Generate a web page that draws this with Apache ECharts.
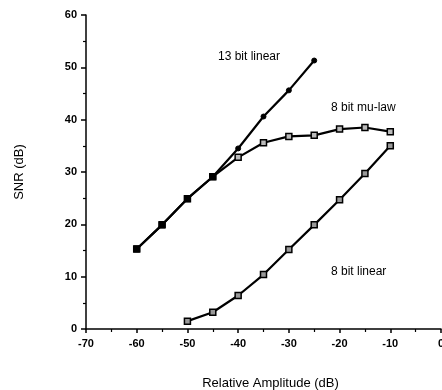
<!DOCTYPE html>
<html><head><meta charset="utf-8">
<script src="https://cdn.jsdelivr.net/npm/echarts@6/dist/echarts.min.js"></script>
<style>html,body{margin:0;padding:0;background:#fff}#c{width:442px;height:390px}</style>
</head><body><div id="c"></div>
<script>
const amp13 = [-60, -55, -50, -45, -40, -35, -30, -25];
const snr13 = [15.3, 19.9, 24.9, 29.1, 34.5, 40.6, 45.6, 51.3];
const ampMu = [-60, -55, -50, -45, -40, -35, -30, -25, -20, -15, -10];
const snrMu = [15.3, 19.9, 24.9, 29.1, 32.8, 35.6, 36.8, 37.0, 38.2, 38.5, 37.7];
const amp8 = [-50, -45, -40, -35, -30, -25, -20, -15, -10];
const snr8 = [1.5, 3.2, 6.4, 10.4, 15.2, 19.9, 24.7, 29.7, 35.0];
const seriesNames = ['13 bit linear', '8 bit mu-law', '8 bit linear'];
const xTicks = [-70, -60, -50, -40, -30, -20, -10, 0];
const yTicks = [0, 10, 20, 30, 40, 50, 60];

const font = '"Liberation Sans", Arial, sans-serif';
const chart = echarts.init(document.getElementById('c'));
const pairs = (xs, ys) => xs.map((x, i) => [x, ys[i]]);
const d13 = pairs(amp13, snr13).map((p, i) => i < 4 ? {value: p, symbol: 'rect', symbolSize: 6} : {value: p});

chart.setOption({
  animation: false,
  grid: {left: 86, right: 1, top: 15, bottom: 61, containLabel: false, outerBoundsMode: 'none'},
  xAxis: {
    type: 'value', min: -70, max: 0, interval: 10,
    name: 'Relative Amplitude (dB)', nameLocation: 'middle', nameGap: 48,
    nameTextStyle: {color: '#000', fontFamily: font, fontSize: 13, padding: [0, 0, 0, 14]},
    axisLine: {onZero: false, lineStyle: {color: '#000', width: 1.5}},
    axisTick: {show: true, length: 4, lineStyle: {color: '#000', width: 1.5}},
    minorTick: {show: true, splitNumber: 2, length: 3, lineStyle: {color: '#000', width: 1.2}},
    axisLabel: {color: '#000', fontFamily: font, fontSize: 11, fontWeight: 'bold', margin: 9,
      formatter: v => xTicks.includes(v) ? String(v) : ''},
    splitLine: {show: false}
  },
  yAxis: {
    type: 'value', min: 0, max: 60, interval: 10,
    name: 'SNR (dB)', nameLocation: 'middle', nameGap: 60, nameRotate: 90,
    nameTextStyle: {color: '#000', fontFamily: font, fontSize: 13},
    axisLine: {show: true, onZero: false, lineStyle: {color: '#000', width: 1.5}},
    axisTick: {show: true, length: 5, lineStyle: {color: '#000', width: 1.5}},
    minorTick: {show: true, splitNumber: 2, length: 3, lineStyle: {color: '#000', width: 1.2}},
    axisLabel: {color: '#000', fontFamily: font, fontSize: 11, fontWeight: 'bold', margin: 9,
      formatter: v => yTicks.includes(v) ? String(v) : ''},
    splitLine: {show: false}
  },
  series: [
    {
      name: seriesNames[1], type: 'line', data: pairs(ampMu, snrMu), z: 2,
      symbol: 'rect', symbolSize: 6,
      lineStyle: {color: '#000', width: 2.2},
      itemStyle: {color: '#bbb', borderColor: '#000', borderWidth: 1.5}
    },
    {
      name: seriesNames[2], type: 'line', data: pairs(amp8, snr8), z: 2,
      symbol: 'rect', symbolSize: 6,
      lineStyle: {color: '#000', width: 2.2},
      itemStyle: {color: '#999', borderColor: '#000', borderWidth: 1.5}
    },
    {
      name: seriesNames[0], type: 'line', data: d13, z: 3,
      symbol: 'circle', symbolSize: 5,
      lineStyle: {color: '#000', width: 2.2},
      itemStyle: {color: '#000', borderColor: '#000', borderWidth: 1}
    }
  ],
  graphic: [
    {type: 'text', left: 218, top: 51, style: {text: seriesNames[0], fill: '#000', font: '12px ' + font}},
    {type: 'text', left: 331, top: 102, style: {text: seriesNames[1], fill: '#000', font: '12px ' + font}},
    {type: 'text', left: 331, top: 266, style: {text: seriesNames[2], fill: '#000', font: '12px ' + font}}
  ]
});
</script></body></html>
